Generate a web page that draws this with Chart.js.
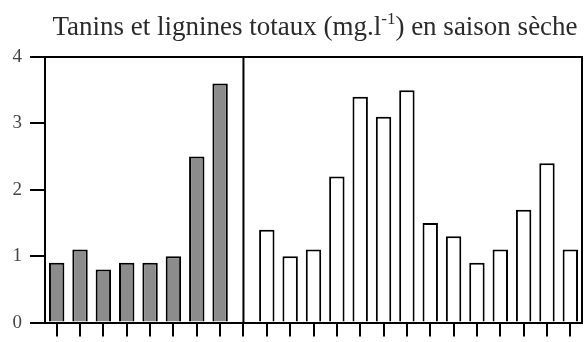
<!DOCTYPE html>
<html>
<head>
<meta charset="utf-8">
<script src="https://cdn.jsdelivr.net/npm/chart.js@4.4.1/dist/chart.umd.min.js"></script>
<style>
  html, body { margin: 0; padding: 0; background: #fff; }
</style>
</head>
<body>
<canvas id="tanins" width="586" height="342"></canvas>
<script>
// Tanins et lignines totaux, saison sèche : deux groupes de stations
const stationsA = ['A1', 'A2', 'A3', 'A4', 'A5', 'A6', 'A7', 'A8'];
const valeursA = [0.9, 1.1, 0.8, 0.9, 0.9, 1.0, 2.5, 3.6];

const stationsB = ['B1', 'B2', 'B3', 'B4', 'B5', 'B6', 'B7', 'B8', 'B9', 'B10', 'B11', 'B12', 'B13', 'B14'];
const valeursB = [1.4, 1.0, 1.1, 2.2, 3.4, 3.1, 3.5, 1.5, 1.3, 0.9, 1.1, 1.7, 2.4, 1.1];

const yTicks = [0, 1, 2, 3, 4];

// une case vide entre les deux groupes, là où passe le trait de séparation
const separateur = stationsA.length;
const categories = [...stationsA, '', ...stationsB];
const dataA = [...valeursA, ...Array(stationsB.length + 1).fill(null)];
const dataB = [...Array(stationsA.length + 1).fill(null), ...valeursB];

const serif = '"Liberation Serif", "Times New Roman", serif';

// cadre haut/droite + trait vertical entre les groupes
const cadre = {
    id: 'cadre',
    afterDatasetsDraw(chart) {
        const { ctx, chartArea: a, scales: { x } } = chart;
        const xs = x.getPixelForValue(separateur);
        ctx.save();
        ctx.strokeStyle = '#000';
        ctx.lineWidth = 2;
        ctx.beginPath();
        ctx.moveTo(a.left, a.top);
        ctx.lineTo(a.right, a.top);
        ctx.lineTo(a.right, a.bottom);
        ctx.moveTo(xs, a.top);
        ctx.lineTo(xs, a.bottom);
        ctx.stroke();
        ctx.restore();
    }
};

// titre avec l'exposant -1
const titre = {
    id: 'titre',
    afterDraw(chart) {
        const ctx = chart.ctx;
        const avant = 'Tanins et lignines totaux (mg.l';
        const exposant = '-1';
        const apres = ') en saison sèche';
        const grand = '27px ' + serif;
        const petit = '17px ' + serif;
        ctx.save();
        ctx.fillStyle = '#2a2a2a';
        ctx.textBaseline = 'alphabetic';
        ctx.textAlign = 'left';
        ctx.font = grand;
        const w1 = ctx.measureText(avant).width;
        const w3 = ctx.measureText(apres).width;
        ctx.font = petit;
        const w2 = ctx.measureText(exposant).width;
        let x0 = 315 - (w1 + w2 + w3) / 2;
        const base = 35;
        ctx.font = grand;
        ctx.fillText(avant, x0, base);
        x0 += w1;
        ctx.font = petit;
        ctx.fillText(exposant, x0, base - 11);
        x0 += w2;
        ctx.font = grand;
        ctx.fillText(apres, x0, base);
        ctx.restore();
    }
};

const ctx = document.getElementById('tanins').getContext('2d');
new Chart(ctx, {
    type: 'bar',
    data: {
        labels: categories,
        datasets: [{
            data: dataA,
            backgroundColor: '#8c8c8c',
            borderColor: '#000',
            borderWidth: 2,
            grouped: false,
            barPercentage: 0.66,
            categoryPercentage: 1
        }, {
            data: dataB,
            backgroundColor: '#fff',
            borderColor: '#000',
            borderWidth: 2,
            grouped: false,
            barPercentage: 0.66,
            categoryPercentage: 1
        }]
    },
    options: {
        responsive: false,
        animation: false,
        layout: {
            padding: { top: 57, right: 4, left: 0, bottom: 0 }
        },
        scales: {
            x: {
                offset: true,
                grid: {
                    offset: false,
                    drawOnChartArea: false,
                    tickLength: 14,
                    color: '#000',
                    lineWidth: 2
                },
                border: { color: '#000', width: 2 },
                ticks: { display: false },
                afterFit: function(s) { s.height = 14; }
            },
            y: {
                min: yTicks[0],
                max: yTicks[yTicks.length - 1],
                afterBuildTicks: function(s) {
                    s.ticks = yTicks.map(v => ({ value: v }));
                },
                ticks: {
                    color: '#444',
                    padding: 8,
                    font: { family: serif, size: 19 }
                },
                grid: {
                    drawOnChartArea: false,
                    tickLength: 15,
                    color: '#000',
                    lineWidth: 2
                },
                border: { color: '#000', width: 2 },
                afterFit: function(s) { s.width = 45; }
            }
        },
        plugins: {
            legend: { display: false },
            tooltip: { enabled: false },
            title: { display: false }
        }
    },
    plugins: [cadre, titre]
});
</script>
</body>
</html>
